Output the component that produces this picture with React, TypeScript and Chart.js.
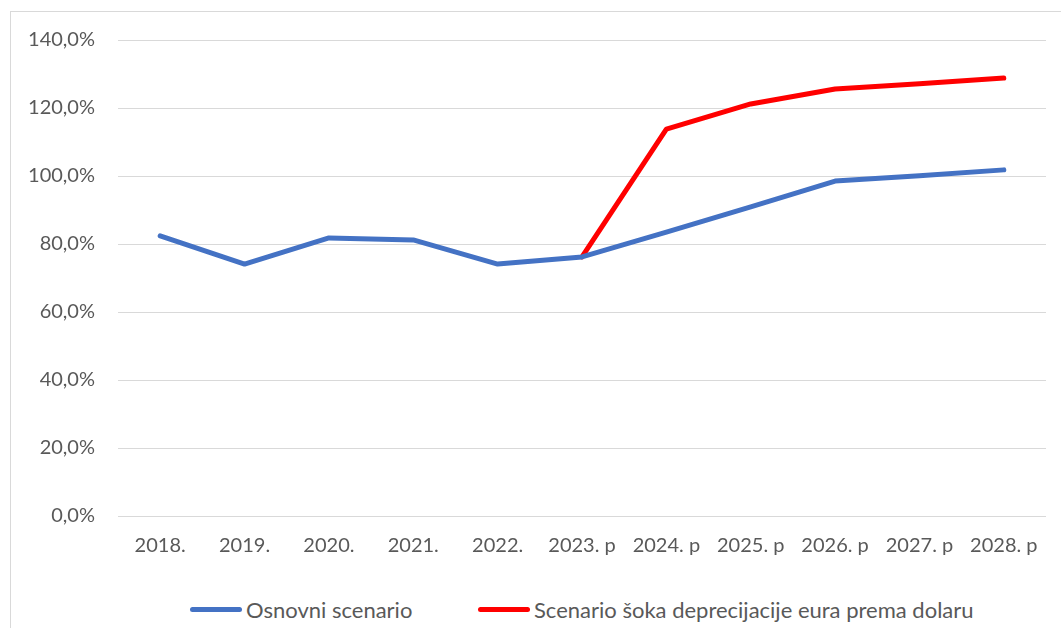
import React, { useEffect, useRef } from "react";
import { Chart, registerables } from "chart.js";

Chart.register(...registerables);

const categories = ["2018.", "2019.", "2020.", "2021.", "2022.", "2023. p", "2024. p", "2025. p", "2026. p", "2027. p", "2028. p"];
const baseline = [82.4, 74.1, 81.8, 81.2, 74.1, 76.2, 83.5, 90.9, 98.5, 100.1, 101.8];
const shock = [null, null, null, null, null, 76.2, 113.8, 121.2, 125.6, 127.1, 128.8];
const seriesNames = ["Osnovni scenario", "Scenario šoka deprecijacije eura prema dolaru"];
const seriesColors = ["#4472C4", "#FF0000"];
const yTicks = [0, 20, 40, 60, 80, 100, 120, 140];

const FONT = "Lato, 'Open Sans', sans-serif";
const TEXT = "#595959";

export default function App() {
  const ref = useRef<HTMLCanvasElement | null>(null);
  useEffect(() => {
    if (!ref.current) return;
    const chart = new Chart(ref.current, {
      type: "line",
      data: {
        labels: categories,
        datasets: [baseline, shock].map((d, i) => ({
          label: seriesNames[i],
          data: d,
          borderColor: seriesColors[i],
          backgroundColor: seriesColors[i],
          borderWidth: 5,
          pointRadius: 0,
          borderCapStyle: "round" as const,
          borderJoinStyle: "round" as const,
          tension: 0,
        })),
      },
      options: {
        animation: false,
        responsive: false,
        layout: { padding: { top: 16, right: 14, left: 0, bottom: 0 } },
        plugins: {
          tooltip: { enabled: false },
          legend: { display: false },
        },
        scales: {
          x: {
            offset: true,
            grid: { display: false, drawTicks: false },
            border: { display: false },
            ticks: {
              font: { family: FONT, size: 20 },
              color: TEXT,
              padding: 18,
              maxRotation: 0,
              autoSkip: false,
            },
          },
          y: {
            min: yTicks[0],
            max: yTicks[yTicks.length - 1],
            grid: { color: "#d9d9d9", lineWidth: 1, drawTicks: false },
            border: { display: false },
            afterFit: (s: any) => {
              s.width = 107;
            },
            afterBuildTicks: (s: any) => {
              s.ticks = yTicks.map((v) => ({ value: v }));
            },
            ticks: {
              padding: 23,
              font: { family: FONT, size: 20 },
              color: TEXT,
              callback: (v: any) => Number(v).toFixed(1).replace(".", ",") + "%",
            },
          },
        },
      },
    });
    return () => chart.destroy();
  }, []);

  const legendItem = (i: number, left: number) => (
    <div
      key={i}
      style={{
        position: "absolute",
        left,
        top: 585,
        height: 24,
        display: "flex",
        alignItems: "center",
        whiteSpace: "nowrap",
        fontFamily: FONT,
        fontSize: 22,
        color: TEXT,
      }}
    >
      <span
        style={{
          display: "inline-block",
          width: 52,
          height: 5,
          borderRadius: 3,
          background: seriesColors[i],
          marginRight: 4,
        }}
      />
      <span>{seriesNames[i]}</span>
    </div>
  );

  return (
    <div
      style={{
        position: "absolute",
        left: 10,
        top: 11,
        width: 1060,
        height: 630,
        border: "1px solid #d9d9d9",
        background: "#fff",
      }}
    >
      <canvas
        ref={ref}
        width={1049}
        height={571}
        style={{ display: "block", position: "absolute", left: 0, top: -7 }}
      />
      {legendItem(0, 179)}
      {legendItem(1, 467)}
    </div>
  );
}
